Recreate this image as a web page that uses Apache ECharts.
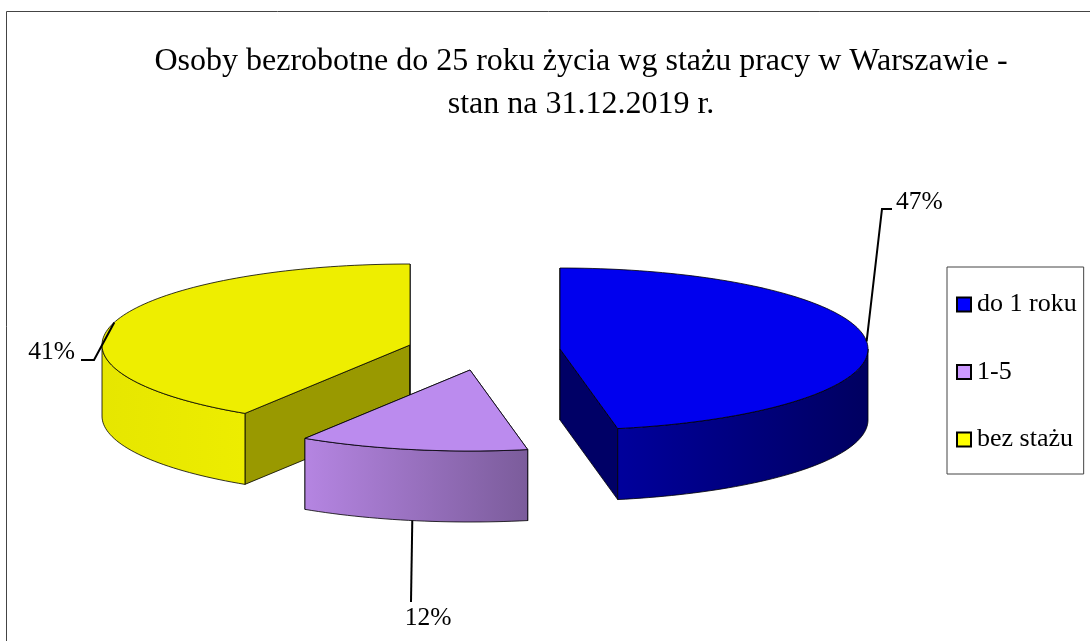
<!DOCTYPE html>
<html><head><meta charset="utf-8">
<style>html,body{margin:0;padding:0;background:#fff}#c{width:1090px;height:641px}</style>
<script src="https://cdn.jsdelivr.net/npm/echarts@6/dist/echarts.min.js"></script>
</head><body><div id="c"></div>
<script>
const categories = ['do 1 roku', '1-5', 'bez stażu'];
const shares = [47, 12, 41];
const titleLines = ['Osoby bezrobotne do 25 roku życia wg stażu pracy w Warszawie -', 'stan na 31.12.2019 r.'];

// look of each slice
const legendColors = ['#0000ff', '#cc99ff', '#ffff00'];
const topColors = ['#0000ee', '#bb8bee', '#eeee00'];
const innerColors = ['#000066', '#000066', '#999900'];
const wallStops = [
  ['#00009c', '#000060'],
  ['#b585e2', '#7b5c9b'],
  ['#e6e600', '#eded00']
];
// layout of the exploded pie
const RX = 308, RY = 81, DEPTH = 71;
const centers = [[560, 349], [470, 370], [410, 345]];
const leaders = [
  { from: 'top', via: [[882, 209], [892, 209]], text: [896, 202, 'left'] },
  { from: 'bottom', via: [[411, 602]], text: [428, 618, 'center'] },
  { from: 'top', via: [[94, 360], [81, 360]], text: [75, 352, 'right'] }
];

const total = shares.reduce((a, b) => a + b, 0);
const FONT = '"Liberation Serif", "Times New Roman", serif';

function rim(c, deg, dy) {
  const a = deg * Math.PI / 180;
  return [c[0] + RX * Math.sin(a), c[1] - RY * Math.cos(a) + (dy || 0)];
}
function arc(c, from, to, dy) {
  const pts = [], n = Math.max(2, Math.ceil(Math.abs(to - from) / 1.5));
  for (let i = 0; i <= n; i++) pts.push(rim(c, from + (to - from) * i / n, dy));
  return pts;
}
const edge = { stroke: '#000', lineWidth: 0.8, lineJoin: 'round' };

function renderer(idx) {
  return function (params, api) {
    const value = api.value(0);
    const before = shares.slice(0, idx).reduce((a, b) => a + b, 0);
    const start = before / total * 360;
    const end = start + value / total * 360;
    const mid = (start + end) / 2;
    const c = centers[idx];
    const down = [c[0], c[1] + DEPTH];
    const children = [];
    const poly = (points, fill) => children.push({
      type: 'polygon', shape: { points }, style: Object.assign({ fill }, edge)
    });
    // radial cut faces
    [start, end].forEach(d => {
      poly([c, rim(c, d), rim(c, d, DEPTH), down], innerColors[idx]);
    });
    // outer wall: the front half of the rim
    const a = Math.max(start, 90), b = Math.min(end, 270);
    if (b > a) {
      const wall = arc(c, a, b, 0).concat(arc(c, b, a, DEPTH));
      const stops = wallStops[idx];
      poly(wall, {
        type: 'linear', x: 0, y: 0, x2: 1, y2: 0,
        colorStops: [{ offset: 0, color: stops[0] }, { offset: 1, color: stops[1] }]
      });
    }
    // top face
    poly([c].concat(arc(c, start, end, 0)), topColors[idx]);
    // leader and label
    const L = leaders[idx];
    const origin = rim(c, mid, L.from === 'bottom' ? DEPTH : 0);
    children.push({
      type: 'polyline', shape: { points: [origin].concat(L.via) },
      style: { stroke: '#000', lineWidth: 2, fill: 'none' }
    });
    children.push({
      type: 'text',
      style: {
        x: L.text[0], y: L.text[1], text: value + '%', fill: '#000',
        font: '25.5px ' + FONT, align: L.text[2], verticalAlign: 'middle'
      }
    });
    return { type: 'group', children };
  };
}

const chart = echarts.init(document.getElementById('c'), null, { renderer: 'canvas' });
chart.setOption({
  animation: false,
  backgroundColor: '#fff',
  title: {
    text: titleLines.join('\n'), left: 576, top: 35, textAlign: 'center',
    textStyle: { fontFamily: FONT, fontSize: 32, fontWeight: 'normal', color: '#000', lineHeight: 43 }
  },
  legend: {
    orient: 'vertical', left: 947, top: 267, icon: 'rect',
    data: categories,
    itemWidth: 14, itemHeight: 14, itemGap: 40.5,
    padding: [24, 7, 21, 9],
    borderColor: '#444', borderWidth: 1, backgroundColor: '#fff',
    itemStyle: { borderColor: '#000', borderWidth: 2 },
    textStyle: { fontFamily: FONT, fontSize: 26, color: '#000', padding: [0, 0, 0, 1], lineHeight: 27 },
    selectedMode: false
  },
  graphic: [{
    type: 'rect', silent: true, z: -1,
    shape: { x: 6.5, y: 11.5, width: 1400, height: 900 },
    style: { fill: 'none', stroke: '#444', lineWidth: 1 }
  }],
  series: categories.map((name, i) => ({
    type: 'custom', name, coordinateSystem: 'none',
    z: i === 1 ? 3 : 2, silent: true,
    itemStyle: { color: legendColors[i] },
    data: [shares[i]],
    renderItem: renderer(i)
  }))
});
</script></body></html>
